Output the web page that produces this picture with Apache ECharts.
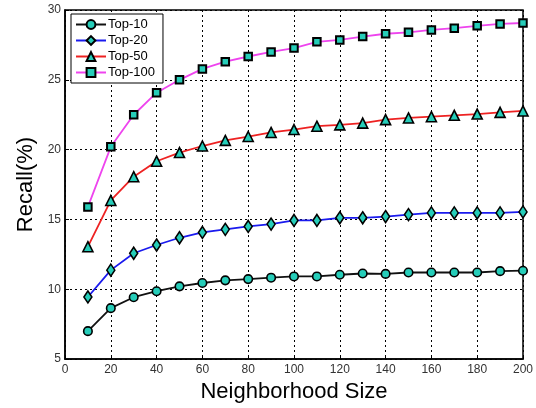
<!DOCTYPE html>
<html>
<head>
<meta charset="utf-8">
<script src="https://cdn.jsdelivr.net/npm/echarts@6/dist/echarts.min.js"></script>
<style>html,body{margin:0;padding:0;background:#fff;}#c{width:536px;height:408px;}</style>
</head>
<body>
<div id="c"></div>
<script>
const neighborhood = [10,20,30,40,50,60,70,80,90,100,110,120,130,140,150,160,170,180,190,200];
const top10  = [7.0,8.65,9.43,9.86,10.21,10.45,10.64,10.73,10.83,10.92,10.92,11.04,11.13,11.1,11.2,11.2,11.2,11.2,11.3,11.33];
const top20  = [9.45,11.37,12.58,13.17,13.69,14.07,14.29,14.5,14.67,14.93,14.93,15.12,15.12,15.21,15.35,15.47,15.47,15.47,15.47,15.54];
const top50  = [13.05,16.36,18.06,19.17,19.79,20.26,20.66,20.94,21.23,21.44,21.68,21.77,21.9,22.15,22.27,22.36,22.46,22.55,22.67,22.77];
const top100 = [15.9,20.2,22.5,24.08,25.0,25.78,26.3,26.67,27.0,27.27,27.72,27.86,28.1,28.3,28.4,28.57,28.7,28.87,29.0,29.07];
const seriesNames = ['Top-10','Top-20','Top-50','Top-100'];
const xTicks = [0,20,40,60,80,100,120,140,160,180,200];
const yTicks = [5,10,15,20,25,30];

const chart = echarts.init(document.getElementById('c'), null, {renderer:'canvas'});
const fill = '#26cdb9';
function mk(name, vals, color, symbol, size, bw) {
  return {
    name: name, type: 'line',
    data: neighborhood.map((x,i)=>[x, vals[i]]),
    symbol: symbol, symbolSize: size, showSymbol: true,
    lineStyle: {color: color, width: 1.8},
    itemStyle: {color: fill, borderColor: '#000', borderWidth: bw},
    emphasis: {disabled: true},
    animation: false
  };
}
chart.setOption({
  animation: false,
  grid: {left: 65, right: 10, top: 10, bottom: 46, show: true, borderColor: '#000', borderWidth: 1.5, backgroundColor: 'transparent'},
  legend: {
    data: seriesNames, orient: 'vertical', left: 71, top: 14,
    backgroundColor: '#fff', borderColor: '#000', borderWidth: 1,
    padding: [4, 8, 4, 4], itemGap: 3, itemWidth: 30, itemHeight: 11,
    textStyle: {fontSize: 13, color: '#000', fontFamily: 'Liberation Sans, Arial, sans-serif', padding: [0,0,0,-3]}
  },
  xAxis: {
    type: 'value', min: 0, max: 200, interval: 20,
    name: 'Neighborhood Size', nameLocation: 'middle', nameGap: 21,
    nameTextStyle: {fontSize: 22, color: '#000', fontFamily: 'Liberation Sans, Arial, sans-serif'},
    axisLine: {show: true, lineStyle: {color: '#000', width: 1.5}},
    axisTick: {show: true, inside: true, length: 4, lineStyle: {color: '#000'}},
    axisLabel: {fontSize: 12, color: '#333', margin: 5, fontFamily: 'Liberation Sans, Arial, sans-serif',
      formatter: v => xTicks.includes(v) ? String(v) : ''},
    splitLine: {show: true, lineStyle: {color: '#000', type: [2,3], width: 1}}
  },
  yAxis: {
    type: 'value', min: 5, max: 30, interval: 5,
    name: 'Recall(%)', nameLocation: 'middle', nameGap: 27,
    nameTextStyle: {fontSize: 22, color: '#000', fontFamily: 'Liberation Sans, Arial, sans-serif'},
    axisLine: {show: true, lineStyle: {color: '#000', width: 1.5}},
    axisTick: {show: true, inside: true, length: 4, lineStyle: {color: '#000'}},
    axisLabel: {fontSize: 12, color: '#333', margin: 4, fontFamily: 'Liberation Sans, Arial, sans-serif',
      formatter: v => yTicks.includes(v) ? String(v) : ''},
    splitLine: {show: true, lineStyle: {color: '#000', type: [2,3], width: 1}}
  },
  series: [
    mk(seriesNames[0], top10, '#111', 'circle', 8.5, 1.6),
    mk(seriesNames[1], top20, '#1a1aee', 'diamond', [8,12], 1.6),
    mk(seriesNames[2], top50, '#ee2222', 'triangle', 10, 1.6),
    mk(seriesNames[3], top100, '#ee44ee', 'rect', 7.5, 2)
  ]
});
</script>
</body>
</html>
